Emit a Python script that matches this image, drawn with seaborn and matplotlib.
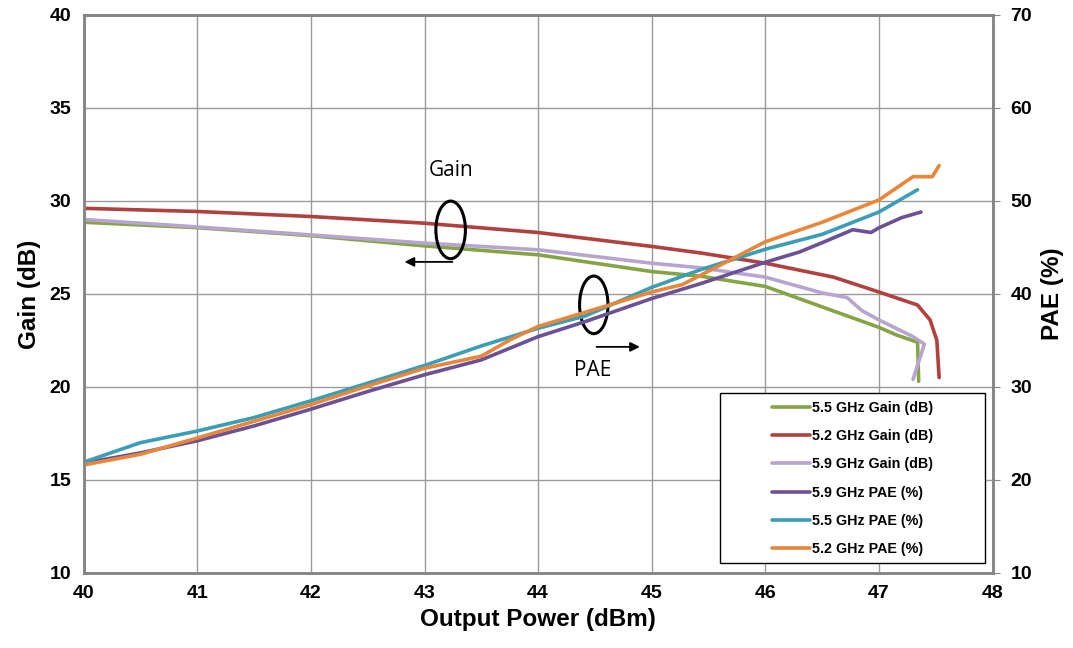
import numpy as np
import pandas as pd
import matplotlib
matplotlib.use("Agg")
import matplotlib.pyplot as plt
import seaborn as sns
from matplotlib.patches import Ellipse, Rectangle

# Gain curves (left axis, dB) vs output power (dBm)
gain55_x = [40, 41, 42, 43, 44, 45, 45.43, 46, 46.5, 47, 47.15, 47.34, 47.35]
gain55_y = [28.85, 28.56, 28.13, 27.58, 27.1, 26.2, 25.95, 25.4, 24.3, 23.2, 22.8, 22.4, 20.3]

gain52_x = [40, 41, 42, 43, 44, 45, 45.43, 46, 46.6, 47, 47.34, 47.45, 47.51, 47.53]
gain52_y = [29.6, 29.43, 29.16, 28.8, 28.3, 27.55, 27.2, 26.65, 25.9, 25.1, 24.4, 23.6, 22.5, 20.5]

gain59_x = [40, 41, 42, 43, 44, 45, 45.43, 46, 46.5, 46.72, 46.85, 47, 47.3, 47.4, 47.3]
gain59_y = [29.0, 28.6, 28.17, 27.73, 27.37, 26.65, 26.4, 25.9, 25.05, 24.8, 24.1, 23.6, 22.7, 22.3, 20.4]

# PAE curves (right axis, %)
pae59_x = [40, 40.5, 41, 41.5, 42, 42.5, 43, 43.5, 44, 44.41, 45, 45.43, 46, 46.3, 46.5,
           46.77, 46.93, 47, 47.2, 47.37]
pae59_y = [21.8, 22.9, 24.2, 25.8, 27.6, 29.5, 31.3, 32.9, 35.4, 37.0, 39.5, 41.1, 43.4, 44.5, 45.5,
           46.9, 46.6, 47.1, 48.2, 48.8]

pae55_x = [40, 40.5, 41, 41.5, 42, 42.5, 43, 43.5, 44, 44.41, 45, 45.43, 46, 46.5, 47, 47.34]
pae55_y = [21.9, 24.0, 25.25, 26.7, 28.5, 30.4, 32.3, 34.4, 36.3, 37.6, 40.7, 42.6, 44.8, 46.4, 48.8, 51.2]

pae52_x = [40, 40.5, 41, 41.5, 42, 42.5, 43, 43.5, 43.76, 44, 44.41, 45, 45.27, 45.43, 46, 46.5,
           47, 47.3, 47.47, 47.53]
pae52_y = [21.6, 22.75, 24.5, 26.3, 28.1, 30.1, 32.0, 33.3, 35.1, 36.5, 38.0, 40.2, 41.0, 42.0, 45.6, 47.7,
           50.1, 52.6, 52.6, 53.8]

x_ticks = [40, 41, 42, 43, 44, 45, 46, 47, 48]
gain_ticks = [10, 15, 20, 25, 30, 35, 40]
pae_ticks = [10, 20, 30, 40, 50, 60, 70]

c_green = "#86a446"
c_red = "#b0413e"
c_lav = "#b7a5d0"
c_purple = "#6c5195"
c_teal = "#3a9eb6"
c_orange = "#e8873a"

sns.set_style("white")
plt.rcParams["font.family"] = ["Liberation Sans", "DejaVu Sans"]
plt.rcParams.update({"text.color": "black", "axes.labelcolor": "black",
                     "xtick.color": "black", "ytick.color": "black"})

fig = plt.figure(figsize=(10.73, 6.48), dpi=100)
ax = fig.add_axes([0.078, 0.116, 0.847, 0.861])
ax2 = ax.twinx()

lw = 2.6
gain_sets = [
    (gain55_x, gain55_y, "5.5 GHz Gain (dB)", c_green),
    (gain52_x, gain52_y, "5.2 GHz Gain (dB)", c_red),
    (gain59_x, gain59_y, "5.9 GHz Gain (dB)", c_lav),
]
pae_sets = [
    (pae59_x, pae59_y, "5.9 GHz PAE (%)", c_purple),
    (pae55_x, pae55_y, "5.5 GHz PAE (%)", c_teal),
    (pae52_x, pae52_y, "5.2 GHz PAE (%)", c_orange),
]

handles = []
for xs, ys, lab, col in gain_sets:
    df = pd.DataFrame({"x": xs, "y": ys})
    sns.lineplot(data=df, x="x", y="y", ax=ax, sort=False, estimator=None, color=col, lw=lw,
                 label=lab, legend=False)
    handles.append(ax.lines[-1])
for xs, ys, lab, col in pae_sets:
    df = pd.DataFrame({"x": xs, "y": ys})
    sns.lineplot(data=df, x="x", y="y", ax=ax2, sort=False, estimator=None, color=col, lw=lw,
                 label=lab, legend=False)
    handles.append(ax2.lines[-1])

ax.set_xlim(40, 48)
ax.set_ylim(10, 40)
ax2.set_ylim(10, 70)
ax.set_xticks(x_ticks)
ax.set_yticks(gain_ticks)
ax2.set_yticks(pae_ticks)
ax.grid(True, color="#9a9a9a", lw=1)
ax2.grid(False)

for a in (ax, ax2):
    for s in a.spines.values():
        s.set_color("#858585")
        s.set_linewidth(1.8)
ax.spines["top"].set_color("#666666")

ax.tick_params(axis="both", length=0, labelsize=14, pad=9, labelcolor="black")
ax2.tick_params(axis="y", length=5, color="#858585", labelsize=14, pad=8, labelcolor="black")
for lbl in ax.get_xticklabels() + ax.get_yticklabels() + ax2.get_yticklabels():
    lbl.set_fontweight("bold")

ax.set_xlabel("Output Power (dBm)", fontsize=17.5, fontweight="bold", labelpad=4, color="black")
ax.set_ylabel("Gain (dB)", fontsize=17.5, fontweight="bold", labelpad=6, color="black")
ax2.set_ylabel("PAE (%)", fontsize=17.5, fontweight="bold", labelpad=6, color="black")

# annotations
ax.add_patch(Ellipse((43.23, 28.44), 0.26, 3.1, fill=False, ec="black", lw=2.2, zorder=5))
ax.add_patch(Ellipse((44.49, 24.41), 0.25, 3.1, fill=False, ec="black", lw=2.2, zorder=5))
ax.annotate("", xy=(42.8, 26.72), xytext=(43.27, 26.72),
            arrowprops=dict(arrowstyle="-|>", color="black", lw=1.3, mutation_scale=14))
ax.annotate("", xy=(44.92, 22.15), xytext=(44.49, 22.15),
            arrowprops=dict(arrowstyle="-|>", color="black", lw=1.3, mutation_scale=14))
ax.text(43.23, 31.65, "Gain", ha="center", va="center", fontsize=15, color="black",
        family=["Open Sans", "DejaVu Sans"])
ax.text(44.48, 20.9, "PAE", ha="center", va="center", fontsize=15, color="black",
        family=["Open Sans", "DejaVu Sans"])

# legend: fixed box like the original, entries centred inside
ax2.add_patch(Rectangle((0.700, 0.018), 0.292, 0.305, transform=ax2.transAxes, fc="white",
                        ec="black", lw=1.0, zorder=6))
leg = ax2.legend(handles=handles, labels=[h.get_label() for h in handles],
                 loc="center", bbox_to_anchor=(0.846, 0.169), frameon=False,
                 prop={"weight": "bold", "size": 10.3}, handlelength=2.7, handletextpad=0.15,
                 labelspacing=1.0, borderpad=0.0)
for t in leg.get_texts():
    t.set_color("black")
leg.set_zorder(7)

fig.savefig("out.png", dpi=100)
